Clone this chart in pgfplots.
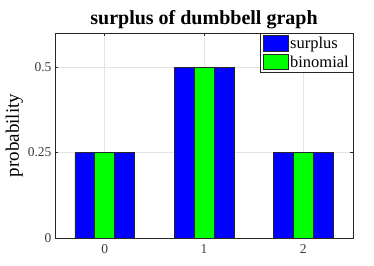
\documentclass[border=0pt]{standalone}
\usepackage{fontspec}
\setmainfont{Liberation Serif}
\usepackage{pgfplots}
\pgfplotsset{compat=1.18}
\definecolor{mblue}{RGB}{0,0,255}
\definecolor{mgreen}{RGB}{0,255,0}
\definecolor{axgray}{RGB}{38,38,38}
\begin{document}
\begin{tikzpicture}
\begin{axis}[
  name=ax,
  scale only axis,
  width=298pt, height=205pt,
  xmin=-0.5, xmax=2.5, ymin=0, ymax=0.6,
  xtick={0,1,2}, ytick={0,0.25,0.5},
  yticklabels={0,0.25,0.5},
  /pgf/number format/assume math mode=true,
  tick align=inside,
  tick style={axgray, line width=0.4pt},
  major tick length=3pt,
  axis line style={axgray, line width=0.5pt},
  grid=major,
  grid style={gray!20, line width=0.4pt},
  ticklabel style={font=\fontsize{13.5}{14}\selectfont, text=axgray!90},
  xticklabel style={yshift=-3pt},
  title={\textbf{surplus of dumbbell graph}},
  title style={font=\fontsize{20}{22}\selectfont, yshift=-5pt},
  ylabel={probability},
  ylabel style={font=\fontsize{19}{21}\selectfont, yshift=-2pt},
  legend style={at={(1,1)}, anchor=north east, draw=axgray, font=\fontsize{16.5}{18}\selectfont, inner sep=2pt, row sep=1.5pt, cells={anchor=west}},
  legend image code/.code={\draw[#1, draw=axgray] (0cm,-0.26cm) rectangle (0.88cm,0.28cm);},
]
\addplot[ybar, bar width=0.6, bar shift=0pt, fill=mblue, draw=axgray, line width=0.5pt] coordinates {(0,0.25) (1,0.5) (2,0.25)};
\addplot[ybar, bar width=0.2, bar shift=0pt, fill=mgreen, draw=axgray, line width=0.5pt] coordinates {(0,0.25) (1,0.5) (2,0.25)};
\legend{surplus, binomial}
\end{axis}
\pgfresetboundingbox
\path ([shift={(-55pt,-28pt)}]ax.south west) rectangle ([shift={(21pt,33pt)}]ax.north east);
\end{tikzpicture}
\end{document}
